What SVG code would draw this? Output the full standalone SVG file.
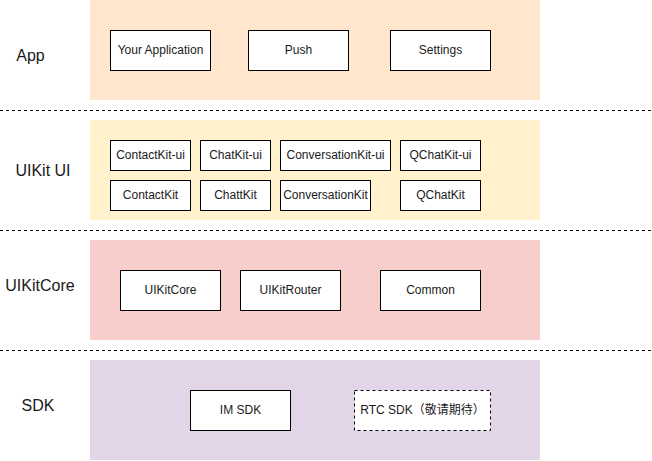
<svg xmlns="http://www.w3.org/2000/svg" width="652" height="461" viewBox="0 0 652 461">
<style>
.band{stroke:none}
.box{fill:#ffffff;stroke:#000000;stroke-width:1}
.dbox{fill:#ffffff;stroke:#000000;stroke-width:1;stroke-dasharray:3 3}
.sep{stroke:#000000;stroke-width:1;stroke-dasharray:3 3;fill:none}
.t{font-family:"Liberation Sans",Arial,"Noto Sans CJK SC",sans-serif;font-size:12px;fill:#1a1a1a;text-anchor:middle;dominant-baseline:central}
.lbl{font-family:"Liberation Sans",Arial,sans-serif;font-size:16px;fill:#1a1a1a;text-anchor:middle;dominant-baseline:central}
</style>
<rect width="652" height="461" fill="#ffffff"/>
<g id="layer-app">
<rect class="band" x="90" y="0" width="450" height="100" fill="#ffe6cc"/>
<text class="lbl" x="30.5" y="55">App</text>
</g>
<g id="layer-uikitui">
<rect class="band" x="90" y="120" width="450" height="100" fill="#fff2cc"/>
<text class="lbl" x="43" y="170">UIKit UI</text>
</g>
<g id="layer-uikitcore">
<rect class="band" x="90" y="240" width="450" height="100" fill="#f8cecc"/>
<text class="lbl" x="40" y="285">UIKitCore</text>
</g>
<g id="layer-sdk">
<rect class="band" x="90" y="360" width="450" height="100" fill="#e1d5e7"/>
<text class="lbl" x="38" y="405">SDK</text>
</g>
<g id="separators">
<line class="sep" x1="0" y1="110.5" x2="652" y2="110.5"/>
<line class="sep" x1="0" y1="230.5" x2="652" y2="230.5"/>
<line class="sep" x1="0" y1="350.5" x2="652" y2="350.5"/>
</g>
<g id="your-application"><rect class="box" x="110.5" y="30.5" width="100" height="40"/><text class="t" x="160.5" y="49.5">Your Application</text></g>
<g id="push"><rect class="box" x="248.5" y="30.5" width="100" height="40"/><text class="t" x="298.5" y="49.5">Push</text></g>
<g id="settings"><rect class="box" x="390.5" y="30.5" width="100" height="40"/><text class="t" x="440.5" y="49.5">Settings</text></g>
<g id="contactkit-ui"><rect class="box" x="110.5" y="140.5" width="80" height="30"/><text class="t" x="150.5" y="155">ContactKit-ui</text></g>
<g id="chatkit-ui"><rect class="box" x="200.5" y="140.5" width="70" height="30"/><text class="t" x="235.5" y="155">ChatKit-ui</text></g>
<g id="conversationkit-ui"><rect class="box" x="280.5" y="140.5" width="110" height="30"/><text class="t" x="335.5" y="155">ConversationKit-ui</text></g>
<g id="qchatkit-ui"><rect class="box" x="400.5" y="140.5" width="80" height="30"/><text class="t" x="440.5" y="155">QChatKit-ui</text></g>
<g id="contactkit"><rect class="box" x="110.5" y="180.5" width="80" height="30"/><text class="t" x="150.5" y="195">ContactKit</text></g>
<g id="chattkit"><rect class="box" x="200.5" y="180.5" width="70" height="30"/><text class="t" x="235.5" y="195">ChattKit</text></g>
<g id="conversationkit"><rect class="box" x="280.5" y="180.5" width="90" height="30"/><text class="t" x="325.5" y="195">ConversationKit</text></g>
<g id="qchatkit"><rect class="box" x="400.5" y="180.5" width="80" height="30"/><text class="t" x="440.5" y="195">QChatKit</text></g>
<g id="uikitcore"><rect class="box" x="120.5" y="270.5" width="100" height="40"/><text class="t" x="170.5" y="289.5">UIKitCore</text></g>
<g id="uikitrouter"><rect class="box" x="240.5" y="270.5" width="100" height="40"/><text class="t" x="290.5" y="289.5">UIKitRouter</text></g>
<g id="common"><rect class="box" x="380.5" y="270.5" width="100" height="40"/><text class="t" x="430.5" y="289.5">Common</text></g>
<g id="im-sdk"><rect class="box" x="190.5" y="390.5" width="100" height="40"/><text class="t" x="240.5" y="409.5">IM SDK</text></g>
<g id="rtc-sdk"><rect class="dbox" x="354.5" y="390.5" width="136" height="40"/><text class="t" x="422.5" y="409.5">RTC SDK（敬请期待）</text></g>
</svg>
